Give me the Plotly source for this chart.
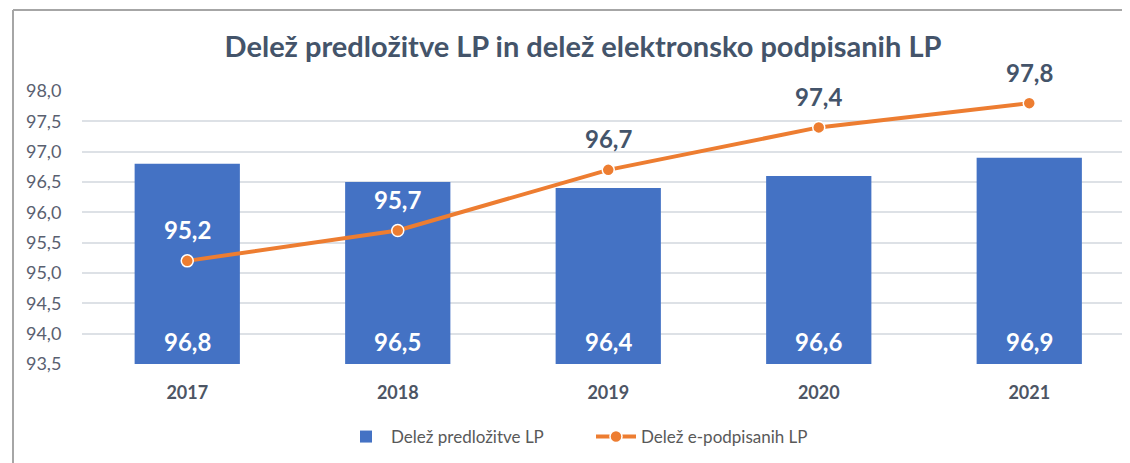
import plotly.graph_objects as go

years = ["2017", "2018", "2019", "2020", "2021"]
delez_predlozitve = [96.8, 96.5, 96.4, 96.6, 96.9]
delez_epodpisanih = [95.2, 95.7, 96.7, 97.4, 97.8]
y_ticks = [93.5, 94.0, 94.5, 95.0, 95.5, 96.0, 96.5, 97.0, 97.5, 98.0]

title_text = "Delež predložitve LP in delež elektronsko podpisanih LP"
name_bar = "Delež predložitve LP"
name_line = "Delež e-podpisanih LP"

OFF = 8  # page body margin
W, H = 1130, 463
L, R, T, B = 82 - OFF, 0, 91 - OFF, H - (364 - OFF)
FONT = "Lato"
DARK = "#44546A"
BLUE = "#4472C4"
ORANGE = "#ED7D31"


def fmt(v):
    return f"{v:.1f}".replace(".", ",")


def px_x(px):
    return (px - OFF - L) / (W - L - R)


def px_y(py):
    return (H - B - (py - OFF)) / (H - T - B)


fig = go.Figure()
fig.add_trace(go.Bar(
    x=years, y=[v - y_ticks[0] for v in delez_predlozitve], base=y_ticks[0],
    name=name_bar, marker=dict(color=BLUE, line=dict(width=0)),
    width=0.5, hoverinfo="skip",
))
fig.add_trace(go.Scatter(
    x=years, y=delez_epodpisanih, name=name_line, mode="lines+markers",
    line=dict(color=ORANGE, width=4),
    marker=dict(color=ORANGE, size=12, line=dict(color="white", width=1.5)),
    cliponaxis=False,
))

annotations = []
for i, v in enumerate(delez_predlozitve):
    annotations.append(dict(
        x=i, y=y_ticks[0], xref="x", yref="y", yshift=23, text=fmt(v), showarrow=False,
        yanchor="middle", font=dict(family=FONT, size=24, color="white", weight="bold"),
    ))
for i, (v, bv) in enumerate(zip(delez_epodpisanih, delez_predlozitve)):
    col = "white" if v + 0.4 < bv else DARK
    annotations.append(dict(
        x=i, y=v, xref="x", yref="y", yshift=31, text=fmt(v), showarrow=False,
        yanchor="middle", font=dict(family=FONT, size=24, color=col, weight="bold"),
    ))

fig.update_layout(
    width=W, height=H,
    margin=dict(l=L, r=R, t=T, b=B, autoexpand=False),
    paper_bgcolor="white", plot_bgcolor="white",
    separators=", ",
    font=dict(family=FONT, color="#595959"),
    title=dict(
        text=title_text, x=(583 - OFF) / W, xref="container", xanchor="center",
        y=1 - (47 - OFF) / H, yref="container", yanchor="middle",
        font=dict(family=FONT, size=29, color=DARK, weight="bold"),
    ),
    showlegend=True,
    legend=dict(
        orientation="h", x=px_x(591), xanchor="center", y=px_y(437), yanchor="middle",
        font=dict(family=FONT, size=17, color="#595959"), bgcolor="rgba(0,0,0,0)",
        traceorder="normal", entrywidth=195, itemwidth=40,
    ),
    xaxis=dict(
        type="category", range=[-0.5, -0.5 + (W - L - R) / 210.5],
        showgrid=False, showline=False, zeroline=False,
        ticks="outside", ticklen=12, tickcolor="rgba(0,0,0,0)",
        tickfont=dict(family=FONT, size=18, color="#4D5564", weight="bold"),
    ),
    yaxis=dict(
        range=[y_ticks[0], y_ticks[-1]], tickvals=y_ticks, tickformat=".1f",
        showgrid=True, gridcolor="#DDE1E6", gridwidth=1.5,
        zeroline=False, showline=False,
        ticks="outside", ticklen=16, tickcolor="rgba(0,0,0,0)",
        tickfont=dict(family=FONT, size=18, color="#596070"),
    ),
    annotations=annotations,
    shapes=[
        dict(type="line", xref="paper", yref="paper", x0=px_x(13), x1=px_x(1145),
             y0=px_y(10), y1=px_y(10), line=dict(color="#A6A6A6", width=2)),
        dict(type="line", xref="paper", yref="paper", x0=px_x(13), x1=px_x(13),
             y0=px_y(10), y1=px_y(480), line=dict(color="#A6A6A6", width=2)),
    ],
)

fig.write_html("out.html")
